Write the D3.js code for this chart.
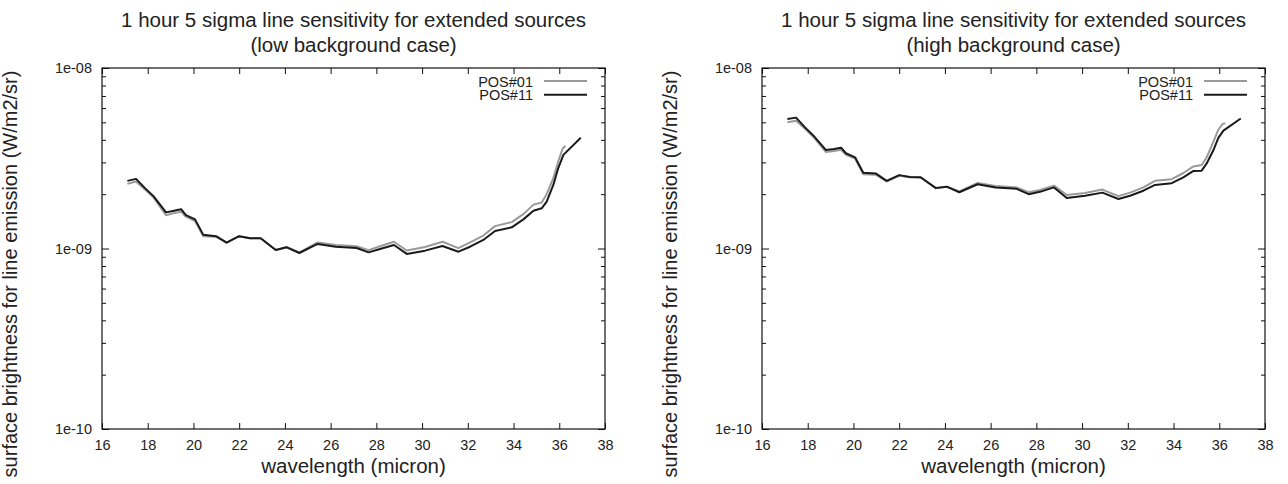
<!DOCTYPE html>
<html>
<head>
<meta charset="utf-8">
<script src="https://cdn.jsdelivr.net/npm/d3@7"></script>
<style>
  html, body { margin: 0; padding: 0; background: #fff; }
  svg { display: block; font-family: "Liberation Sans", Arial, Helvetica, sans-serif; }
</style>
</head>
<body>
<svg id="chart" width="1288" height="484"></svg>
<script>
// ---------------- DATA ----------------
const xTicks = [16, 18, 20, 22, 24, 26, 28, 30, 32, 34, 36, 38];
const yTickLabels = ["1e-10", "1e-09", "1e-08"];
const yTickValues = [1e-10, 1e-9, 1e-8];
const seriesNames = ["POS#01", "POS#11"];

const wave01 = [17.11,17.49,17.88,18.25,18.80,19.15,19.46,19.67,20.07,20.43,20.99,21.45,22.00,22.47,22.94,23.60,24.08,24.63,25.43,26.22,27.14,27.66,28.16,28.77,29.33,30.13,30.89,31.59,32.10,32.68,33.19,33.92,34.43,34.87,35.23,35.45,35.74,35.96,36.15,36.27];
const wave11 = [17.11,17.49,17.88,18.25,18.80,19.15,19.46,19.67,20.07,20.43,20.99,21.45,22.00,22.47,22.94,23.60,24.08,24.63,25.43,26.22,27.14,27.66,28.16,28.77,29.33,30.13,30.89,31.59,32.10,32.68,33.19,33.92,34.43,34.87,35.23,35.45,35.74,35.96,36.18,36.94];

// low background case (units of 1e-9 W/m2/sr)
const lowPos01 = [2.28,2.35,2.12,1.92,1.53,1.57,1.60,1.50,1.42,1.17,1.16,1.077,1.17,1.14,1.14,0.98,1.02,0.95,1.08,1.045,1.03,0.98,1.03,1.09,0.975,1.02,1.09,1.005,1.08,1.18,1.33,1.40,1.55,1.75,1.80,2.00,2.45,3.05,3.58,3.70];
const lowPos11 = [2.37,2.43,2.16,1.95,1.585,1.62,1.65,1.53,1.45,1.19,1.17,1.077,1.17,1.14,1.14,0.98,1.015,0.944,1.06,1.023,1.006,0.952,0.994,1.045,0.933,0.973,1.032,0.96,1.023,1.115,1.25,1.31,1.45,1.62,1.67,1.82,2.25,2.80,3.30,4.11];

// high background case (units of 1e-9 W/m2/sr)
const highPos01 = [5.00,5.10,4.60,4.15,3.42,3.47,3.52,3.30,3.15,2.58,2.56,2.35,2.53,2.48,2.47,2.17,2.20,2.07,2.31,2.22,2.18,2.05,2.11,2.23,1.98,2.03,2.12,1.95,2.04,2.18,2.37,2.42,2.62,2.85,2.90,3.20,3.90,4.55,4.90,4.95];
const highPos11 = [5.22,5.31,4.69,4.22,3.51,3.56,3.62,3.37,3.20,2.63,2.60,2.37,2.55,2.49,2.48,2.16,2.20,2.05,2.27,2.18,2.14,2.00,2.06,2.18,1.905,1.96,2.04,1.88,1.96,2.09,2.25,2.30,2.48,2.69,2.70,2.96,3.50,4.10,4.50,5.25];

const titles = [
  ["1 hour 5 sigma line sensitivity for extended sources", "(low background case)"],
  ["1 hour 5 sigma line sensitivity for extended sources", "(high background case)"]
];
const xLabel = "wavelength (micron)";
const yLabel = "surface brightness for line emission (W/m2/sr)";

// ---------------- DRAW ----------------
const svg = d3.select("#chart");
const colors = ["#9a9a9a", "#1a1a1a"];

const panels = [
  { left: 102, right: 605, ylabX: 17, series: [lowPos01, lowPos11], title: titles[0] },
  { left: 762, right: 1265, ylabX: 677, series: [highPos01, highPos11], title: titles[1] }
];
const plotTop = 68, plotBottom = 429;

panels.forEach(p => {
  const x = d3.scaleLinear().domain([16, 38]).range([p.left, p.right]);
  const y = d3.scaleLog().domain([1e-10, 1e-8]).range([plotBottom, plotTop]);
  const g = svg.append("g");

  const minor = [];
  [1e-10, 1e-9].forEach(d => { for (let k = 2; k <= 9; k++) minor.push(d * k); });

  const xb = g.append("g").attr("transform", `translate(0,${plotBottom})`)
    .call(d3.axisBottom(x).tickValues(xTicks).tickSize(-6).tickPadding(11).tickFormat(d3.format("d")));
  const xt = g.append("g").attr("transform", `translate(0,${plotTop})`)
    .call(d3.axisTop(x).tickValues(xTicks).tickSize(-6).tickFormat(""));
  const yl = g.append("g").attr("transform", `translate(${p.left},0)`)
    .call(d3.axisLeft(y).tickValues(yTickValues).tickSize(-7).tickPadding(10)
      .tickFormat((d, i) => yTickLabels[i]));
  const ylm = g.append("g").attr("transform", `translate(${p.left},0)`)
    .call(d3.axisLeft(y).tickValues(minor).tickSize(-4).tickFormat(""));
  const yr = g.append("g").attr("transform", `translate(${p.right},0)`)
    .call(d3.axisRight(y).tickValues(yTickValues).tickSize(-7).tickFormat(""));
  const yrm = g.append("g").attr("transform", `translate(${p.right},0)`)
    .call(d3.axisRight(y).tickValues(minor).tickSize(-4).tickFormat(""));

  [xb, xt, yl, ylm, yr, yrm].forEach(a => {
    a.select(".domain").remove();
    a.selectAll(".tick line").attr("stroke", "#111").attr("stroke-width", 1);
    a.selectAll("text").attr("font-size", 14.5).attr("fill", "#222")
      .attr("font-family", "'Liberation Sans', Arial, sans-serif");
  });

  g.append("rect").attr("x", p.left).attr("y", plotTop)
    .attr("width", p.right - p.left).attr("height", plotBottom - plotTop)
    .attr("fill", "none").attr("stroke", "#111").attr("stroke-width", 1.2);

  const waves = [wave01, wave11];
  p.series.forEach((vals, si) => {
    const pts = vals.map((v, i) => [waves[si][i], v * 1e-9]);
    g.append("path").datum(pts)
      .attr("fill", "none").attr("stroke", colors[si]).attr("stroke-width", 2)
      .attr("stroke-linejoin", "round")
      .attr("d", d3.line().x(d => x(d[0])).y(d => y(d[1])));
  });

  seriesNames.forEach((name, i) => {
    const ly = 81 + i * 13.7;
    g.append("text").attr("x", p.right - 72).attr("y", ly + 5.5)
      .attr("text-anchor", "end").attr("font-size", 14.5).attr("fill", "#222").text(name);
    g.append("line").attr("x1", p.right - 61).attr("x2", p.right - 18)
      .attr("y1", ly).attr("y2", ly).attr("stroke", colors[i]).attr("stroke-width", 2);
  });

  const cx = (p.left + p.right) / 2;
  g.append("text").attr("x", cx).attr("y", 27).attr("text-anchor", "middle")
    .attr("font-size", 20.5).attr("fill", "#222").text(p.title[0]);
  g.append("text").attr("x", cx).attr("y", 52).attr("text-anchor", "middle")
    .attr("font-size", 20.5).attr("fill", "#222").text(p.title[1]);

  g.append("text").attr("x", cx).attr("y", 473).attr("text-anchor", "middle")
    .attr("font-size", 20.5).attr("fill", "#222").text(xLabel);
  g.append("text").attr("transform", `translate(${p.ylabX},274) rotate(-90)`)
    .attr("text-anchor", "middle").attr("font-size", 20).attr("fill", "#222").text(yLabel);
});
</script>
</body>
</html>
